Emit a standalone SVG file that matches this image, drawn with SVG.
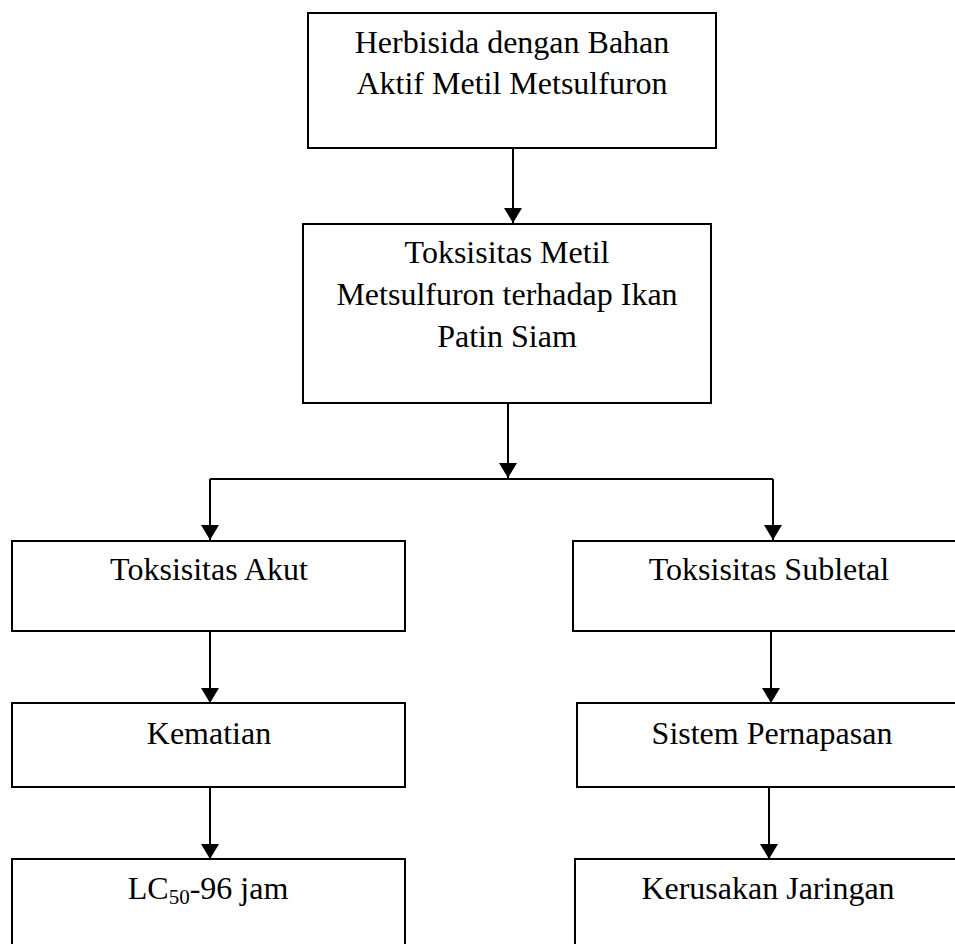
<svg xmlns="http://www.w3.org/2000/svg" width="955" height="944" viewBox="0 0 955 944">
<style>
.box{fill:#fff;stroke:#000;stroke-width:2}
.t{font-family:"Liberation Serif","Times New Roman",serif;font-size:32px;fill:#000;text-anchor:middle}
.c{stroke:#000;stroke-width:2;fill:none}
.ca{stroke:#000;stroke-width:2;fill:none;marker-end:url(#ah)}
</style>
<defs>
<marker id="ah" markerUnits="userSpaceOnUse" markerWidth="18" markerHeight="18" refX="15" refY="9" orient="auto">
<path d="M0,0 L15,9 L0,18 z" fill="#000"/>
</marker>
</defs>
<rect width="955" height="944" fill="#fff"/>
<g id="connectors">
<line class="ca" x1="513" y1="148" x2="513" y2="223"/>
<line class="ca" x1="508" y1="403" x2="508" y2="478"/>
<line class="c" x1="210" y1="479" x2="773" y2="479"/>
<line class="ca" x1="210" y1="479" x2="210" y2="540"/>
<line class="ca" x1="773" y1="479" x2="773" y2="540"/>
<line class="ca" x1="210" y1="631" x2="210" y2="703"/>
<line class="ca" x1="210" y1="787" x2="210" y2="859"/>
<line class="ca" x1="771" y1="631" x2="771" y2="703"/>
<line class="ca" x1="769" y1="787" x2="769" y2="859"/>
</g>
<g id="n1">
<rect class="box" x="308" y="13" width="408" height="135"/>
<text class="t" x="512" y="53">Herbisida dengan Bahan</text>
<text class="t" x="512" y="94">Aktif Metil Metsulfuron</text>
</g>
<g id="n2">
<rect class="box" x="303" y="224" width="408" height="179"/>
<text class="t" x="507" y="263">Toksisitas Metil</text>
<text class="t" x="507" y="305">Metsulfuron terhadap Ikan</text>
<text class="t" x="507" y="347">Patin Siam</text>
</g>
<g id="n3">
<rect class="box" x="12" y="541" width="393" height="90"/>
<text class="t" x="209" y="580">Toksisitas Akut</text>
</g>
<g id="n4">
<rect class="box" x="573" y="541" width="400" height="90"/>
<text class="t" x="769" y="580">Toksisitas Subletal</text>
</g>
<g id="n5">
<rect class="box" x="12" y="703" width="393" height="84"/>
<text class="t" x="209" y="744">Kematian</text>
</g>
<g id="n6">
<rect class="box" x="577" y="703" width="400" height="84"/>
<text class="t" x="772" y="744">Sistem Pernapasan</text>
</g>
<g id="n7">
<rect class="box" x="12" y="859" width="393" height="100"/>
<text class="t" x="208" y="899">LC<tspan font-size="21" dy="5">50</tspan><tspan dy="-5">-96 jam</tspan></text>
</g>
<g id="n8">
<rect class="box" x="575" y="859" width="400" height="100"/>
<text class="t" x="768" y="899">Kerusakan Jaringan</text>
</g>
</svg>
